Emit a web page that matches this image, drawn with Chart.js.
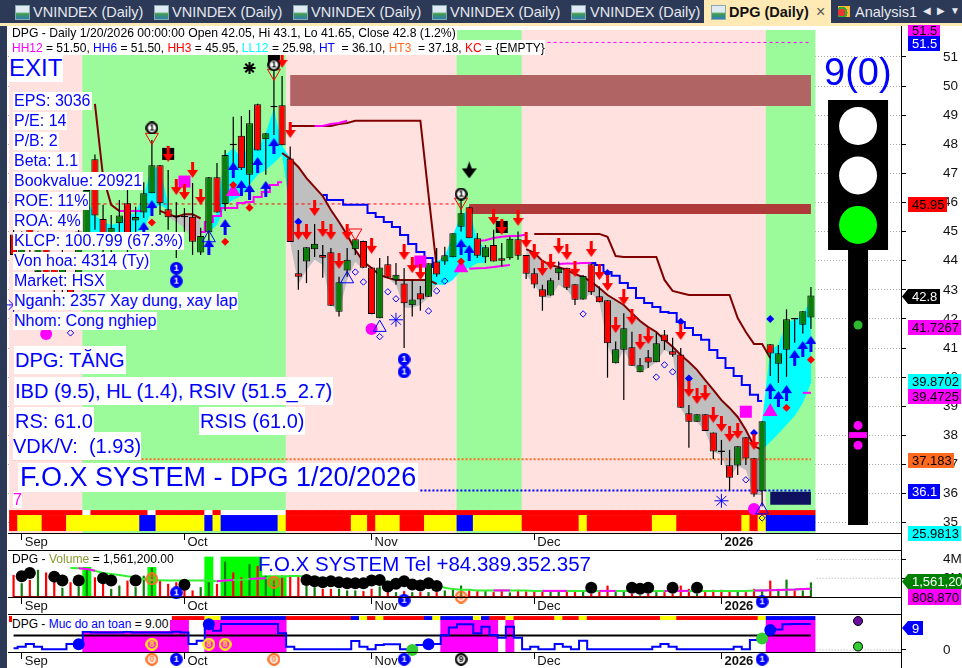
<!DOCTYPE html>
<html><head><meta charset="utf-8">
<script src="https://cdn.jsdelivr.net/npm/chart.js@4"></script>
<style>
html,body{margin:0;padding:0;background:#fff;width:962px;height:668px;overflow:hidden;font-family:"Liberation Sans",Arial,sans-serif}
canvas{position:absolute;left:0}
.t{position:absolute;white-space:nowrap;line-height:1}
.d{position:absolute}
</style></head><body>
<canvas id="c1" width="962" height="524" style="top:26px"></canvas>
<canvas id="c2" width="962" height="63" style="top:551px"></canvas>
<canvas id="c3" width="962" height="53" style="top:615px"></canvas>
<div id="ov"></div>
<script>
// ---------- candles, one entry per session (Aug 29 2025 .. Jan 20 2026) ----------
const opens=[44.9,44,45.4,43.6,44.6,44,43,43.3,43.5,44.72,
47.49,45.43,44.37,45.29,45.97,45.38,45.66,46.32,47.28,45.77,
45.55,45.5,45.51,44.28,44.98,46.87,45.95,47.98,48.29,46.95,
49.38,48.17,49.27,49.34,47.51,43.57,43.97,44.39,44.2,44.29,
42.25,43.66,44.39,44.68,43.77,42.02,43.88,43.33,43.22,42.47,
42.88,42.76,43.97,43.97,44.12,45.17,45.84,44.77,44.12,44.54,
44.08,44.08,44.74,44.2,43.57,43.02,42.8,43.57,43.76,43.19,
42.67,43.88,42.78,42.64,40.48,40.94,41.03,40.17,40.68,40.51,
41.46,40.89,40.78,38.76,38.47,38.72,38.1,37.44,36.97,36.96,
37.93,37.21,36.08,41.13,40.46,40.94,41.99,41.8,42.05];
const highs=[45.2,45,45.6,45,44.9,44.2,44.6,43.5,45.4,46.6,
47.65,45.92,45.57,46.09,46.43,45.85,46.7,48.15,47.29,47.12,
46.02,45.81,46.67,45.13,46.88,47.36,47.8,48.95,48.97,49.18,
49.39,48.39,51.5,50.35,47.92,44.37,44.47,45.26,44.54,44.44,
43.45,44.44,44.75,44.69,43.78,44.09,44.16,43.92,43.75,43.34,
43.13,43.91,44.44,44.48,44.94,46.16,45.85,44.95,44.54,45.06,
44.61,44.83,45,44.2,43.74,43.17,43.41,43.97,43.76,43.19,
43.51,43.88,43.11,42.64,41.22,42.19,41.56,40.66,40.93,41.52,
41.62,41.35,41,39.04,38.72,38.72,38.1,37.84,37.5,37.62,
37.93,37.21,38.48,41.13,41.1,42.33,41.99,42.26,43.1];
const lows=[44,43.8,44.2,43.4,43,42.8,42.9,42.3,43.2,44.55,
45.06,44.2,43.96,44.54,44.03,44.95,45.47,46.32,45.57,45.06,
44.09,44.99,44.2,44.2,44.71,45.66,45.71,46.88,47.12,46.6,
47.79,46.95,48.32,47.97,44.64,43,43.23,44.13,43.41,42.44,
42.08,43.45,44.2,43.75,42.16,42.02,43.42,43.17,41,42.08,
42.28,42.76,43.45,43.85,44.12,45,44.77,44.09,43.92,43.97,
43.8,44.03,44.03,43.37,43.05,42.28,42.8,43.34,42.99,42.48,
42.67,42.82,42.57,39.98,40.48,39.21,40.39,40.17,40.31,40.51,
40.93,40.7,38.95,37.57,38.47,38.15,37.19,36.98,36.1,36.64,
36.98,35.89,35.55,40.04,39.8,40,41.18,41.5,41.65];
const closes=[44.2,44.6,44.4,44.8,43.4,43,44.2,42.6,45,46.43,
45.55,44.54,45.13,45.55,44.88,45.5,46.32,47.28,45.97,45.49,
45.49,45.49,44.65,44.85,46.87,45.66,47.63,47.97,47.18,48.72,
47.79,48.38,49.28,47.97,44.64,43.45,44.46,44.58,44.1,42.45,
43.26,44.03,44.74,43.76,42.17,43.77,43.42,43.52,42.54,42.67,
42.67,43.91,43.53,44.19,44.94,45.63,44.77,44.17,44.46,43.97,
44,44.75,44.17,43.55,43.18,42.76,43.33,43.76,43.07,42.66,
43.47,42.92,42.57,41.16,40.96,41.68,40.39,40.41,40.5,41.16,
41.23,40.77,38.95,38.47,38.72,38.15,37.44,37.43,36.54,37.62,
37.2,35.97,38.48,40.81,40.82,41.99,41.98,42.26,42.8];
// ---------- volume (millions) ----------
const volumes=[2.35,1.47,1.82,2.9,2.62,1.75,.98,1.57,1.12,3.05,
2.1,1.4,.87,1.22,1.75,1.05,2.27,3.15,1.75,1.4,
1.57,.87,.7,1.05,1.57,1.4,3.78,2.62,2.1,3.5,
3.32,2.27,1.75,2.27,2.27,2.2,1.22,1.05,.87,.87,
.87,.7,.7,.63,.87,1.12,.7,.52,.63,.52,
.52,.52,.52,.7,.77,1.22,.77,.63,.63,.52,
.77,.49,.77,.6,.6,.56,.6,.56,.7,.6,
.7,.35,.6,1.22,.52,.7,.35,.18,.35,.52,
.52,.35,1.22,.87,.35,.52,.77,.77,.7,.7,
.52,.87,.77,1.75,.87,1.85,.7,.7,1.56];
const volumeSpikes=[[9,3.2],[17,3.2],[24,4.3],[26,4.3],[27,4.3],[28,4.3],[29,4.3],[30,4.3],[31,2.3],[32,2.3],[33,2.3]];
const volMaStart=7;
const volMa=[3.08,3.05,2.98,2.8,2.55,2.45,2.35,2.2,2.1,1.92,1.82,1.78,1.75,1.75,1.75,1.75,1.75,1.75,1.68,1.75,1.82,1.85,1.92,1.96,2,2.1,2.17,2.24,2.24,2.17,2.1,2.03,1.96,1.89,1.85,1.82,1.75,1.75,1.68,1.65,1.58,1.54,1.47,1.4,1.33,1.22,.98,.84,.77,.77,.7,.7,.7,.7,.7,.7,.7,.65,.65,.65,.65,.65,.65,.65,.65,.65,.65,.65,.65,.65,.65,.65,.65,.65,.65,.65,.65,.65,.65,.65,.65,.65,.65,.65,.68,.7,.72,.75,.77,.8,.85,.87];
const volMaAltStart=[[8,10],[25,27],[29,31],[59,61],[65,68],[72,74],[80,83],[91,98]];
const volDots=[[1,2.2],[2,2.55],[5,2.17],[6,1.75],[8,1.75],[11,2],[12,1.75],[15,1.75],[21,1.3],[36,1.82],[37,1.68],[38,1.58],[39,1.68],[40,1.58],[41,1.47],[42,1.47],[43,1.47],[44,1.75],[45,1.82],[46,1.12],[47,1.4],[48,1.68],[49,1.33],[50,1.22],[51,1.47],[52,1.16],[71,.98],[76,.98],[77,.87],[78,.98],[81,.98],[84,.98]];
const volOrange0=[[17,1.92],[32,1.57],[55,0]];
const volBlue1=[[20,.45],[48,-.35],[92,-.5]];
const volumeTicks=[0,2,4];
// ---------- regime bands & signal strips ----------
const regimeSpans=[[0,8,'D'],[9,33,'U'],[34,54,'D'],[55,62,'U'],[63,92,'D'],[93,98,'U']];
const stripLower=[[0,0,'r'],[1,3,'y'],[4,6,'r'],[7,15,'y'],[16,17,'b'],[18,23,'y'],[24,24,'b'],[25,25,'y'],[26,32,'b'],[33,33,'y'],[34,41,'r'],[42,43,'y'],[44,44,'r'],[45,47,'y'],[48,50,'r'],[51,54,'y'],[55,56,'b'],[57,62,'y'],[63,69,'r'],[70,70,'y'],[71,78,'r'],[79,81,'y'],[82,89,'r'],[90,90,'y'],[91,91,'r'],[92,92,'y'],[93,98,'b']];
const stripUpperWhite=[9,17,24,26,27,28,29,30,31,32,33];
const safetyStrip=[[20,23,'r'],[24,25,'y'],[26,33,'b'],[34,41,'r'],[42,42,'b'],[43,43,'y'],[44,44,'r'],[45,45,'y'],[46,50,'r'],[51,51,'b'],[52,52,'y'],[53,56,'b'],[57,57,'y'],[58,58,'b'],[59,60,'r'],[61,61,'y'],[62,66,'r'],[67,67,'y'],[68,69,'r'],[70,70,'y'],[71,79,'r'],[80,81,'y'],[82,91,'r'],[92,92,'y'],[93,98,'b']];
const safetyZones=[[9,21],[24,33],[53,59],[61,61],[93,98]];
// ---------- overlay lines ----------
const stopA=[49.39,46.88,45.92,45.71,45.71,45.71,45.71];        const stopAStart=10;
const stopA2=[45.71,45.6,45.5,45.6,45.6,45.45];                 const stopA2Start=18;
const stopB=[47.7,47.5,47.22,46.84,46.53,46.22,45.74,45.33,44.88,44.37,43.96,43.75,43.51,43.41,43.34,43.34,43.34,43.34,43.34,43.2]; const stopBStart=33;
const stopC=[44.4,44.27,43.99,43.85,43.78,43.68,43.54,43.44,43.27,43.06,42.82,42.65,42.48,42.2,41.93,41.72,41.55,41.28,41.04,40.76,40.52,40.25,39.9,39.56,39.21,38.94,38.63,38.18,37.63,37.5]; const stopCStart=63;
const upperA=[48.63,48.63,48.63,48.63,48.63,48.63,48.7,48.73,48.81,48.81,48.81,48.81,48.81,48.81,48.81,48.81,48.81,46.26,43.78]; const upperAStart=34;
const upperB=[44.92,44.92,44.92,44.92,44.92,44.92,44.92,44.92,44.92,44.82,44.16,44.13,44.13,44.13,44.13,44.13,43.34,42.96,42.89,42.82,42.82,42.82,42.82,42.82,42.82,42.03,41.55,41.14,41.14,40.66]; const upperBStart=64;
const stairA=[46.26,46.09,46.09,45.92,45.92,45.92,45.64,45.5,45.33,45.16,44.88,44.57,44.3,44.09,43.78]; const stairAStart=38;
const stairB=[43.92,43.92,43.85,43.61,43.48,43.23,43.06,42.72,42.55,42.41,42.24,42.2,41.89,41.69,41.45,41.28,40.93,40.66,40.31,40.04,39.73,39.39,39.18]; const stairBStart=70;
const magStairA=[44.99,45.33,45.54,45.81,45.81,45.98,46.02,46.19,46.36,46.6,46.7]; const magStairAStart=23;
const magLineB=[44.68,44.7,44.78,44.82,44.85,44.85,44.9];       const magLineBStart=57;
const magLineC=[43.72,43.74,43.75,43.78,43.82,43.85];           const magLineCStart=56;
const magLineD=[43.89,43.9,43.9,43.92,43.92];                   const magLineDStart=67;
const magLineE=[45.71,45.71,45.71,45.71];                       const magLineEStart=13;
const magLineF=[48.63,48.63,48.7,48.73,48.81];                  const magLineFStart=37;
const magLineG=[39.46,39.46];                                   const magLineGStart=97;
// ---------- clouds (top, bottom) ----------
const cyanAT=[46.09,45.57,45.33,45.23,45.3,45.57,45.64,46.26,47.19,47.19,45.92]; const cyanAB=[44.78,44.99,44.99,44.99,44.99,44.99,44.99,45.06,45.74,45.92,45.74]; const cyanAStart=9;
const cyanBT=[44.99,45.67,47.63,47.87,47.53,47.98,47.8,48.39,49.25,47.94,47.53]; const cyanBB=[44.99,45.23,45.92,46.09,46.22,46.6,46.95,47.12,47.36,47.63,45.74]; const cyanBStart=24;
const cyanCT=[43.17,43.96,44.16,44.88,45.57,45.74,44.71,44.4]; const cyanCB=[43.17,43.17,43.17,43.34,43.68,43.75,43.92,43.92]; const cyanCStart=51;
const cyanDT=[38.49,40.93,41.1,41.9,41.96,42.14,42.65]; const cyanDB=[37.5,37.77,38.05,38.36,38.66,39.11,39.8]; const cyanDStart=92;
const grayAT=[45.71,45.6,45.5,45.6,45.6,45.45]; const grayAB=[45.71,45.5,45.33,45.13,44.71,44.92]; const grayAStart=18;
const grayBT=[47.5,47.22,46.84,46.53,46.22,45.74,45.33,44.88,44.37,43.96]; const grayBB=[44.61,43.17,43.68,44.03,43.85,42.48,42.24,43.34,43.96,43.68]; const grayBStart=34;
const grayCT=[43.41,43.34,43.34,43.34,43.34,43.34,43.2]; const grayCB=[43.41,43.17,42.38,42.38,42.48,42.75,43.2]; const grayCStart=46;
const grayDT=stopC; const grayDB=[43.51,43.17,42.75,42.72,43.17,42.99,42.65,42.65,42.89,42.58,41.11,40.42,40.93,40.42,40.18,40.31,40.52,40.93,40.76,38.94,38.46,38.46,38.15,37.43,37.32,36.53,36.95,36.81,35.95,35.95]; const grayDStart=63;
// ---------- levels ----------
const levelHH=51.5, levelHH3=45.95, levelHT3=37.18, levelHT=36.1;
const zoneUpper=[49.32,50.38]; const zoneMid=[45.61,45.95]; const zoneLow=[35.61,36.06];
// ---------- signals (session index, price) ----------
const upArrows=[[16,45.06],[17,45.81],[24,44.47],[26,45.16],[27,47.12],[28,46.5],[29,46.36],[30,47.29],[31,46.47],[32,47.94],[55,44.47],[56,44.27],[93,39.52],[94,39.25],[95,39.45],[96,40.66],[97,40.97],[98,41.14]];
const downArrows=[[19,47.67],[20,46.53],[21,46.36],[22,47.12],[23,46.19],[33,50.9],[34,48.49],[35,44.99],[36,44.99],[37,45.81],[38,45.09],[39,44.99],[40,43.99],[41,44.99],[44,44.51],[48,44.3],[49,43.85],[50,43.61],[59,45.5],[60,45.16],[62,45.47],[63,44.71],[64,44.3],[65,43.75],[66,43.96],[67,44.51],[68,44.3],[69,43.72],[71,44.4],[72,43.61],[73,43.23],[74,41.79],[75,42.75],[76,42.07],[77,41.21],[78,41.41],[82,41.55],[83,39.59],[84,39.35],[85,39.45],[86,38.7],[87,38.39],[88,38.05],[89,38.15],[91,37.77]];
const redDiamonds=[[17,45.31],[27,46.6],[29,45.82],[26,44.65],[95,38.95],[98,40.6],[55,43.97]];
const blueDiamonds=[[35,45.34],[83,39.95],[93,42],[91,38.08],[82,41.9],[73,43.58]];
const openDiamonds=[[42,43.61],[43,43.27],[46,42.93],[47,42.69],[45,41.39],[51,42.27],[52,42.96],[53,43.3],[70,42.17],[79,40],[80,40.42],[81,40.18],[90,36.47],[92,35.16],[7,41.52]];
const openTriUp=[[41,43.37],[45,41.7],[24,44.78],[92,35.43]];
const openTriDown=[[17,48.25],[32,50.45],[42,44.96],[55,46.02]];
const ringOnes=[[17,48.56],[32,50.73],[55,46.29]];
const blackSquares=[[19,47.67],[60,45.16],[32,50.9]];
const magentaSquares=[[21,46.72],[50,43.97],[90,38.81]];
const magentaTriangles=[[27,46.37],[55,43.75],[93,38.81]];
const magentaCircles=[[4,41.48],[44,41.65],[91,35.47]];
const stars=[[29,50.62]];
const snowflakes=[[47,41.97],[87,35.75],[0,42.48]];
const spades=[[56,47.12]];
const blueOnes=[[20,43.74],[20,43.3],[48,40.61],[48,40.18]];
// ---------- traffic light (right of last session) ----------
const lightX=103.79;
const lightHousing=[44.37,49.52], lightPole=[34.92,44.37], lightMark=[37.91,38.11];
const lightLamps=[48.63,46.93], lightOn=[45.23];
const lightGreenDot=[41.79], lightMagentaDots=[38.34,37.66];
// ---------- safety score pane ----------
const safetyScore=[.6,1.15,2.07,1.15,.23,.23,.23,2.07,2.07,6.3,
6,6,6,6,6.3,6,6,6,6,6,
6.3,6,2.07,3.2,8.6,6.67,9,9,9,9,
9,9,9,5.75,1.15,.23,.23,.23,.23,.23,
.23,.23,3.1,1.15,.23,1.72,1.95,1.95,.23,.23,
1.72,2.07,2.07,5.05,7.8,8.85,8.85,5.75,8,5.17,
4.25,8,4.25,.23,1.15,.23,.23,2.07,1.15,.23,
3.2,.23,.23,.23,.23,.23,.23,.23,.23,1.15,
2.07,1.15,.23,.23,.23,.23,.23,.23,.23,1.15,
.23,3.45,3.45,6.9,7.1,8.85,9,9,9];
const safetyLevel=5;
const safetyBlueDots=[[8,2],[24,8.85],[51,2],[93,6.9]];
const safetyGreenDots=[[49,0],[92,4]];
const safetyYellow8=[[17,2],[24,2],[26,2]];
const safetyBelowOrange=[[17,-3.2],[32,-3.2]];
const safetyBelowBlue=[[20,-3.2],[48,-3.2],[92,-3.2]];
const safetyBelowBlack=[[55,-3.2]];
const safetySideDots=[[103.79,10,'#6a0fa0'],[103.79,1.2,'#32cd32']];
const safetyTicks=[0];
// ---------- axes ----------
const priceTicks=[35,36,37,38,39,40,41,42,43,44,45,46,47,48,49,50,51];
const monthIdx=[1,21,44,64,87];
const monthLabels=['Sep','Oct','Nov','Dec','2026'];

const COL={r:'#ff0000',y:'#ffff00',b:'#0000ff',U:'#9bfb9b',D:'#ffe2df',g:'#0b7d0b'};
const XMIN=-0.6846,XMAX=109.07;
const xyOf=a=>a.map(p=>({x:p[0],y:p[1]}));
const ser=(start,a)=>a.map((v,j)=>({x:start+j,y:v}));
const expand=s=>{const o=[];s.forEach(r=>{for(let i=r[0];i<=r[1];i++)o.push([i,r[2]])});return o;};
function glyph(w,h,fn){const c=document.createElement('canvas');c.width=w;c.height=h;fn(c.getContext('2d'),w,h);return c;}
function arrowUp(color){return glyph(11,16,(g,w,h)=>{g.fillStyle=color;g.beginPath();g.moveTo(w/2,0);g.lineTo(w,8);g.lineTo(7,8);g.lineTo(7,h);g.lineTo(4,h);g.lineTo(4,8);g.lineTo(0,8);g.closePath();g.fill();});}
function arrowDown(color){return glyph(11,16,(g,w,h)=>{g.fillStyle=color;g.beginPath();g.moveTo(w/2,h);g.lineTo(w,8);g.lineTo(7,8);g.lineTo(7,0);g.lineTo(4,0);g.lineTo(4,8);g.lineTo(0,8);g.closePath();g.fill();});}
function badge(fill,ring,digit,dcol,size){return glyph(size,size,(g,w,h)=>{g.beginPath();g.arc(w/2,h/2,w/2-1.2,0,7);if(fill){g.fillStyle=fill;g.fill();}g.lineWidth=2.2;g.strokeStyle=ring;g.stroke();g.fillStyle=dcol;g.font='bold '+(size-4)+'px "Liberation Sans"';g.textAlign='center';g.textBaseline='middle';g.fillText(digit,w/2,h/2+.5);});}
const spadeImg=glyph(15,17,(g,w,h)=>{g.fillStyle='#000';g.beginPath();g.moveTo(w/2,h);g.lineTo(w,7);g.lineTo(10,7);g.lineTo(7.5,0);g.lineTo(5,7);g.lineTo(0,7);g.closePath();g.fill();});

function pts(data,o){return Object.assign({type:'line',data:xyOf(data),showLine:false,pointRadius:4,pointHoverRadius:0,clip:false,order:20},o);}
function line(data,color,width,o){return Object.assign({type:'line',data,borderColor:color,borderWidth:width,pointRadius:0,pointHoverRadius:0,fill:false,tension:0,borderCapStyle:'butt',borderJoinStyle:'miter',order:60},o||{});}
function cloud(start,top,bot,color){return [
 {type:'line',data:ser(start,top),borderColor:'transparent',borderWidth:0,pointRadius:0,fill:false,order:80},
 {type:'line',data:ser(start,bot),borderColor:'transparent',borderWidth:0,pointRadius:0,fill:'-1',backgroundColor:color,order:80}];}
function bars(data,colors,pct,order,o){return Object.assign({type:'bar',data,backgroundColor:colors,barPercentage:pct,categoryPercentage:1,grouped:false,order,borderWidth:0},o||{});}
const hLine=(a,b,v)=>[{x:a,y:v},{x:b,y:v}];
const vLine=(x,a,b)=>[{x,y:a},{x,y:b}];

// pins the plot rectangle of a pane so the three panes share one x mapping;
// the chart area runs to the canvas foot so markers hung under the axis are still drawn
function pinArea(axisH){return {id:'pinArea',afterLayout(chart){
 const L=8,R=901,T=0,H=chart.height,B=H-axisH;
 chart.chartArea={left:L,right:R,top:T,bottom:H,width:R-L,height:H-T};
 const x=chart.scales.x,y=chart.scales.y;
 Object.assign(x,{left:L,right:R,top:B,bottom:H,width:R-L,height:axisH});
 Object.assign(y,{left:R,right:chart.width,top:T,bottom:B,width:chart.width-R,height:B-T});
 x.configure();y.configure();
}};}
function xAxis(tick,pad){return {type:'linear',min:XMIN,max:XMAX,offset:false,
 grid:{display:true,drawOnChartArea:false,drawTicks:true,tickLength:tick,color:'#000',offset:false},
 border:{display:true,color:'#000',width:1},
 afterBuildTicks:s=>{s.ticks=monthIdx.map(v=>({value:v}));},
 ticks:{autoSkip:false,maxRotation:0,align:'start',labelOffset:3,padding:pad,color:'#111',
  callback:v=>monthLabels[monthIdx.indexOf(v)],
  font:c=>({family:'"Liberation Sans"',size:13,weight:c.tick&&c.index===4?'bold':'normal'})}};}
function yAxis(min,max,ticks,fmt,dotted){return {type:'linear',position:'right',min,max,
 afterBuildTicks:s=>{s.ticks=ticks.map(v=>({value:v}));},
 grid:{display:true,drawOnChartArea:dotted,color:'#a8a8a8',tickLength:5,tickColor:'#000',tickBorderDash:[]},
 border:{display:true,color:'#000',width:1,dash:[1,2]},
 ticks:{padding:37,color:'#111',font:{family:'"Liberation Sans"',size:13.5},callback:fmt}};}
function opts(x,y){return {responsive:false,animation:false,devicePixelRatio:1,events:[],
 plugins:{legend:{display:false},tooltip:{enabled:false},title:{display:false}},
 datasets:{line:{spanGaps:false}},
 scales:{x,y}};}

// ---------- main pane ----------
const isDoji=i=>Math.abs(opens[i]-closes[i])<=0.02;
const BAND_LO=34.64,BAND_HI=51.93;
const bandPts=expand(regimeSpans);
const mainSets=[
 bars(bandPts.map(p=>({x:p[0],y:[BAND_LO,BAND_HI]})),bandPts.map(p=>COL[p[1]]),1.1,100),
 bars(expand(stripLower).map(p=>({x:p[0],y:[34.71,35.26]})),expand(stripLower).map(p=>COL[p[1]]),1.1,95),
 bars(opens.map((_,i)=>({x:i,y:[35.26,35.43]})),opens.map((_,i)=>stripUpperWhite.includes(i)?'#fff':COL.r),1.1,95),
 ...cloud(cyanAStart,cyanAT,cyanAB,'#00ffff'),
 ...cloud(cyanBStart,cyanBT,cyanBB,'#00ffff'),
 ...cloud(cyanCStart,cyanCT,cyanCB,'#00ffff'),
 ...cloud(cyanDStart,cyanDT,cyanDB,'#00ffff'),
 ...cloud(grayAStart,grayAT,grayAB,'#bfbfbf'),
 ...cloud(grayBStart,grayBT,grayBB,'#bfbfbf'),
 ...cloud(grayCStart,grayCT,grayCB,'#bfbfbf'),
 ...cloud(grayDStart,grayDT,grayDB,'#bfbfbf'),
 line(hLine(34,98,(zoneUpper[0]+zoneUpper[1])/2),'#b06464',31,{order:75}),
 line(hLine(56,98,(zoneMid[0]+zoneMid[1])/2),'#b03a3a',10,{order:75}),
 line(hLine(93,98,(zoneLow[0]+zoneLow[1])/2),'#101060',13,{order:75}),
 line(hLine(0,98,levelHH),'#ff00ff',1,{borderDash:[3,3],order:70}),
 line(hLine(0,55,levelHH3),'#ff0000',1,{borderDash:[3,3],order:70}),
 line(hLine(0,98,levelHT3),'#ff6a20',2,{borderDash:[2,2],order:70}),
 line(hLine(50,98,levelHT),'#0000ff',2,{borderDash:[2,2],order:70}),
 line(ser(stopAStart,stopA),'#800000',2),
 line(ser(stopA2Start,stopA2),'#800000',2),
 line(ser(stopBStart,stopB),'#800000',2),
 line(ser(stopCStart,stopC),'#800000',2),
 line(ser(upperAStart,upperA),'#800000',2),
 line(ser(upperBStart,upperB),'#800000',2),
 line(ser(stairAStart,stairA),'#0000ff',2,{stepped:'middle'}),
 line(ser(stairBStart,stairB),'#0000ff',2,{stepped:'middle'}),
 line(ser(magStairAStart,magStairA),'#ff00ff',2,{stepped:'middle',order:58}),
 line(ser(magLineBStart,magLineB),'#ff00ff',2,{order:58}),
 line(ser(magLineCStart,magLineC),'#ff00ff',2,{order:58}),
 line(ser(magLineDStart,magLineD),'#ff00ff',2,{order:58}),
 line(ser(magLineEStart,magLineE),'#ff00ff',2,{order:58}),
 line(ser(magLineFStart,magLineF),'#ff00ff',2,{order:58}),
 line(ser(magLineGStart,magLineG),'#ff00ff',2,{order:58}),
 bars(opens.map((_,i)=>({x:i,y:[lows[i],highs[i]]})),'#000',0.15,50),
 bars(opens.map((_,i)=>({x:i,y:[Math.min(opens[i],closes[i]),Math.max(opens[i],closes[i])]})),
   opens.map((_,i)=>isDoji(i)?'#000':(closes[i]>opens[i]?COL.g:COL.r)),0.88,40,
   {borderWidth:1,borderColor:'#000',borderSkipped:false,minBarLength:1.5}),
 pts(magentaSquares,{pointStyle:'rect',pointRadius:8.5,backgroundColor:'#ff00ff',borderWidth:0,order:38}),
 pts(blackSquares,{pointStyle:'rect',pointRadius:8.5,backgroundColor:'#000',borderWidth:0,order:38}),
 pts(magentaTriangles,{pointStyle:'triangle',pointRadius:8.5,backgroundColor:'#ff00ff',borderWidth:0,order:36}),
 pts(magentaCircles,{pointStyle:'circle',pointRadius:6,backgroundColor:'#ff00ff',borderWidth:0,order:36}),
 pts(openDiamonds,{pointStyle:'rectRot',pointRadius:3.2,backgroundColor:'rgba(0,0,0,0)',borderColor:'#0000ff',borderWidth:1}),
 pts(redDiamonds,{pointStyle:'rectRot',pointRadius:4,backgroundColor:'#ff0000',borderWidth:0}),
 pts(blueDiamonds,{pointStyle:'rectRot',pointRadius:4,backgroundColor:'#0000ff',borderWidth:0}),
 pts(openTriUp,{pointStyle:'triangle',pointRadius:7.5,backgroundColor:'rgba(0,0,0,0)',borderColor:'#0000ff',borderWidth:1}),
 pts(openTriDown,{pointStyle:'triangle',pointRotation:180,pointRadius:7.5,backgroundColor:'rgba(0,0,0,0)',borderColor:'#ff0000',borderWidth:1}),
 pts(upArrows,{pointStyle:arrowUp('#0000ff'),order:18}),
 pts(downArrows,{pointStyle:arrowDown('#ff0000'),order:18}),
 pts(ringOnes,{pointStyle:badge('#fff','#000','1','#000',13),order:16}),
 pts(blueOnes,{pointStyle:badge('#0000ff','#0000ff','1','#fff',13),order:16}),
 pts(stars,{pointStyle:'star',pointRadius:6,borderColor:'#000',borderWidth:2,order:16}),
 pts(snowflakes,{pointStyle:'star',pointRadius:7,borderColor:'#0000ff',borderWidth:1,order:16}),
 pts(spades,{pointStyle:spadeImg,order:16}),
 line(vLine(lightX,lightHousing[0],lightHousing[1]),'#000',60,{order:15}),
 line(vLine(lightX,lightPole[0],lightPole[1]),'#000',20,{order:15}),
 line(vLine(lightX,lightMark[0],lightMark[1]),'#ff00ff',18,{order:10}),
 pts(lightLamps.map(v=>[lightX,v]),{pointStyle:'circle',pointRadius:19,backgroundColor:'#fff',borderWidth:0,order:10}),
 pts(lightOn.map(v=>[lightX,v]),{pointStyle:'circle',pointRadius:19,backgroundColor:'#00ff00',borderWidth:0,order:10}),
 pts(lightGreenDot.map(v=>[lightX,v]),{pointStyle:'circle',pointRadius:4.5,backgroundColor:'#2eb82e',borderWidth:0,order:10}),
 pts(lightMagentaDots.map(v=>[lightX,v]),{pointStyle:'circle',pointRadius:4.5,backgroundColor:'#ff00ff',borderWidth:0,order:10}),
];
new Chart(document.getElementById('c1'),{type:'line',data:{datasets:mainSets},plugins:[pinArea(17)],
 options:opts(xAxis(7,-5),yAxis(34.643,52.065,priceTicks,v=>String(v),true))});

// ---------- volume pane ----------
const volColor=i=>closes[i]>=opens[i]?COL.g:COL.r;
const volGrid=volumeTicks.slice(1).map(v=>line(hLine(98.7,XMAX,v),'#a8a8a8',1,{borderDash:[1,2],order:99}));
const volAlt=volMaAltStart.map(r=>line(ser(r[0],volMa.slice(r[0]-volMaStart,r[1]-volMaStart+1)),'#ff00ff',2,{order:28}));
new Chart(document.getElementById('c2'),{type:'line',data:{datasets:[
 ...volGrid,
 bars(xyOf(volumeSpikes),'#00ff00',1.1,90),
 bars(volumes.map((v,i)=>({x:i,y:v})),volumes.map((_,i)=>volColor(i)),0.27,40),
 line(ser(volMaStart,volMa),'#33ee33',2,{order:30}),
 ...volAlt,
 line(hLine(0,98,0),'#800000',2,{order:35,clip:false}),
 pts(volDots,{pointStyle:'circle',pointRadius:6,backgroundColor:'#000',borderWidth:0,order:15}),
 pts(volOrange0,{pointStyle:badge(null,'#ff6a20','0','#ff6a20',13),order:12}),
 pts(volBlue1,{pointStyle:badge('#0000ff','#0000ff','1','#fff',13),order:12}),
]},plugins:[pinArea(17)],options:opts(xAxis(7,-5),yAxis(0,4.9,volumeTicks.filter(v=>v>0),v=>v+'M',false))});

// ---------- safety pane ----------
const safetyBars=[];safetyZones.forEach(r=>{for(let i=r[0];i<=r[1];i++)safetyBars.push({x:i,y:[-0.69,10.34]});});
const sPts=expand(safetyStrip);
new Chart(document.getElementById('c3'),{type:'line',data:{datasets:[
 line(hLine(98.7,XMAX,0),'#a8a8a8',1,{borderDash:[1,2],order:99}),
 bars(safetyBars,'#ff00ff',1.1,90),
 bars(sPts.map(p=>({x:p[0],y:[10.34,11.7]})),sPts.map(p=>COL[p[1]]),1.1,88),
 line(hLine(0,98,safetyLevel),'#000',2,{order:50}),
 line(ser(0,safetyScore),'#0000ff',2,{stepped:'middle',order:40}),
 pts(safetyBlueDots,{pointStyle:'circle',pointRadius:6,backgroundColor:'#0000ff',borderWidth:0,order:20}),
 pts(safetyGreenDots,{pointStyle:'circle',pointRadius:6,backgroundColor:'#32cd32',borderWidth:0,order:20}),
 pts(safetyYellow8,{pointStyle:badge(null,'#ffff00','8','#ffff00',13),order:15}),
 pts(safetyBelowOrange,{pointStyle:badge('#fff','#ff6a20','0','#ff6a20',13),order:15}),
 pts(safetyBelowBlue,{pointStyle:badge('#0000ff','#0000ff','1','#fff',13),order:15}),
 pts(safetyBelowBlack,{pointStyle:badge('#fff','#000','9','#000',13),order:15}),
 pts(safetySideDots.map(p=>[p[0],p[1]]),{pointStyle:'circle',pointRadius:4.5,backgroundColor:safetySideDots.map(p=>p[2]),borderColor:'#000',borderWidth:1,order:15}),
]},plugins:[pinArea(16)],options:opts(xAxis(7,-5),yAxis(-0.69,12.07,safetyTicks,v=>String(v),false))});

// ---------- window chrome and text overlays ----------
const ov=document.getElementById('ov');
function box(l,t,w,h,bg,extra){const d=document.createElement('div');d.className='d';d.style.cssText=`left:${l}px;top:${t}px;width:${w}px;height:${h}px;background:${bg};${extra||''}`;ov.appendChild(d);return d;}
function txt(s,l,cy,size,color,o){o=o||{};const d=document.createElement('div');d.className='t';d.innerHTML=s;
 d.style.cssText=`left:${l}px;top:${cy-size*0.5-(o.pad||0)}px;font-size:${size}px;color:${color};`+(o.bg?`background:${o.bg};padding:${o.pad||0}px ${o.padx===undefined?2:o.padx}px;`:'')+(o.css||'');ov.appendChild(d);return d;}
// tab strip
box(0,0,962,23,'#2c3a58');box(0,23,962,3,'#ffeab5');box(0,26,7,642,'#2c3a58');
box(704,0,127,24,'#ffeab5');
[15,154,293,432,571,711].forEach(x=>box(x,5,13,13,'linear-gradient(#dfeaf5 45%,#3f9b4a 60%,#2f7fb8)','border:1px solid #8aa'));
[33,172,311,450,590].forEach(x=>txt('VNINDEX (Daily)',x,12,14.5,'#e6e8ee'));
txt('<b>DPG (Daily)</b>',729,12,14.5,'#111');txt('×',816,12,16,'#555');
box(838,6,12,11,'radial-gradient(circle at 30% 60%,#e33 35%,#3a3 36%,#3a3 55%,#fb3 56%)');
txt('Analysis1',855,12,14.5,'#e6e8ee');
txt('◀',923,11,10,'#e6e8ee');txt('▶',937,11,10,'#e6e8ee');txt('▼',950,11,10,'#e6e8ee');
// pane rules
box(8,533,893,1,'#000');box(8,550,893,1,'#000');box(8,597,893,1,'#000');box(8,614,893,1,'#000');box(8,652,893,1,'#000');
box(901,26,1,642,'#000');
// header
box(9,26,448,14,'#fff');box(9,40,536,15,'#fff');
txt('DPG - Daily 1/20/2026 00:00:00 Open 42.05, Hi 43.1, Lo 41.65, Close 42.8 (1.2%)',12,33,12.2,'#000');
txt('<span style="color:#f0f">HH12</span> = 51.50, <span style="color:#00f">HH6</span> = 51.50, <span style="color:#f00">HH3</span> = 45.95, <span style="color:#0ff">LL12</span> = 25.98, <span style="color:#00f">HT</span>&nbsp; = 36.10, <span style="color:#ff6a20">HT3</span>&nbsp; = 37.18, <span style="color:#f00">KC</span> = {EMPTY}',12,47.5,12,'#000');
// left text blocks
const B='#0000ff',W='#fff';
txt('EXIT',9,68,24,B,{bg:W,pad:2,padx:0,css:'padding-right:1px;'});
[['EPS: 3036',101],['P/E: 14',121],['P/B: 2',141],['Beta: 1.1',161],['Bookvalue: 20921',181],['ROE: 11%',201],['ROA: 4%',221],['KLCP: 100.799 (67.3%)',241],['Von hoa: 4314 (Ty)',261],['Market: HSX',281],['Nganh: 2357 Xay dung, xay lap',301],['Nhom: Cong nghiep',321]]
 .forEach(r=>txt(r[0],13,r[1],16,B,{bg:W,pad:1,padx:1}));
txt('DPG: TĂNG',14,360,20,B,{bg:W,pad:4,padx:1});
txt('IBD (9.5), HL (1.4), RSIV (51.5_2.7)',14,390.5,20,B,{bg:W,pad:4,padx:1});
txt('RS: 61.0',14,420.5,20,B,{bg:W,pad:4,padx:1});
txt('RSIS (61.0)',199,420.5,20,B,{bg:W,pad:4,padx:1});
txt('VDK/V:&nbsp; (1.93)',13,445.5,20,B,{bg:W,pad:4,padx:0});
txt('F.O.X SYSTEM - DPG 1/20/2026',18,477,27,B,{bg:W,pad:1,padx:2});
txt('7',13,500,16,'#ff00ff',{bg:W,pad:0,padx:0});
txt('9(0)',824,72,38,B);
// pane captions
txt('DPG - <span style="color:#8a9a30">Volume</span> = 1,561,200.00',12,559.5,12.1,'#000');
txt('F.O.X SYSTEM Tel +84.389.352.357',258,564,20.5,B);
txt('DPG - <span style="color:#00f">Muc do an toan</span> = 9.00',12,623.5,12,'#000',{bg:W,pad:1,padx:0,css:'padding-right:2px;'});
box(9,616,3,6,'#f00');
// value tags on the price axis
function tag(s,l,t,w,h,bg,col,arrow){const d=box(l,t,w,h,bg,arrow?'clip-path:polygon(0 50%,6px 0,100% 0,100% 100%,6px 100%);':'');
 const x=txt(s,l+(arrow?10:4),t+h/2,13,col);}
tag('51.5',908,25,32,11,'#ff00ff','#000');
tag('51.5',908,36,32,15,'#0000ff','#fff');
tag('45.95',908,197,39,15,'#ff0000','#000');
tag('42.8',902,289,38,15,'#000','#fff',true);
tag('41.7267',908,320,53,15,'#ff00ff','#000');
tag('39.8702',908,374,53,15,'#00ffff','#000');
tag('39.4725',908,389,53,15,'#ff00ff','#000');
tag('37.183',908,453,46,15,'#ff6a20','#000');
tag('36.1',908,484,32,15,'#0000ff','#fff');
tag('25.9813',908,526,53,15,'#00ffff','#000');
tag('1,561,200',902,574,60,15,'#008000','#fff',true);
tag('808,870',908,589,53,16,'#ff00ff','#000');
tag('9',902,621,21,14,'#0000ff','#fff',true);
</script>
</body></html>
